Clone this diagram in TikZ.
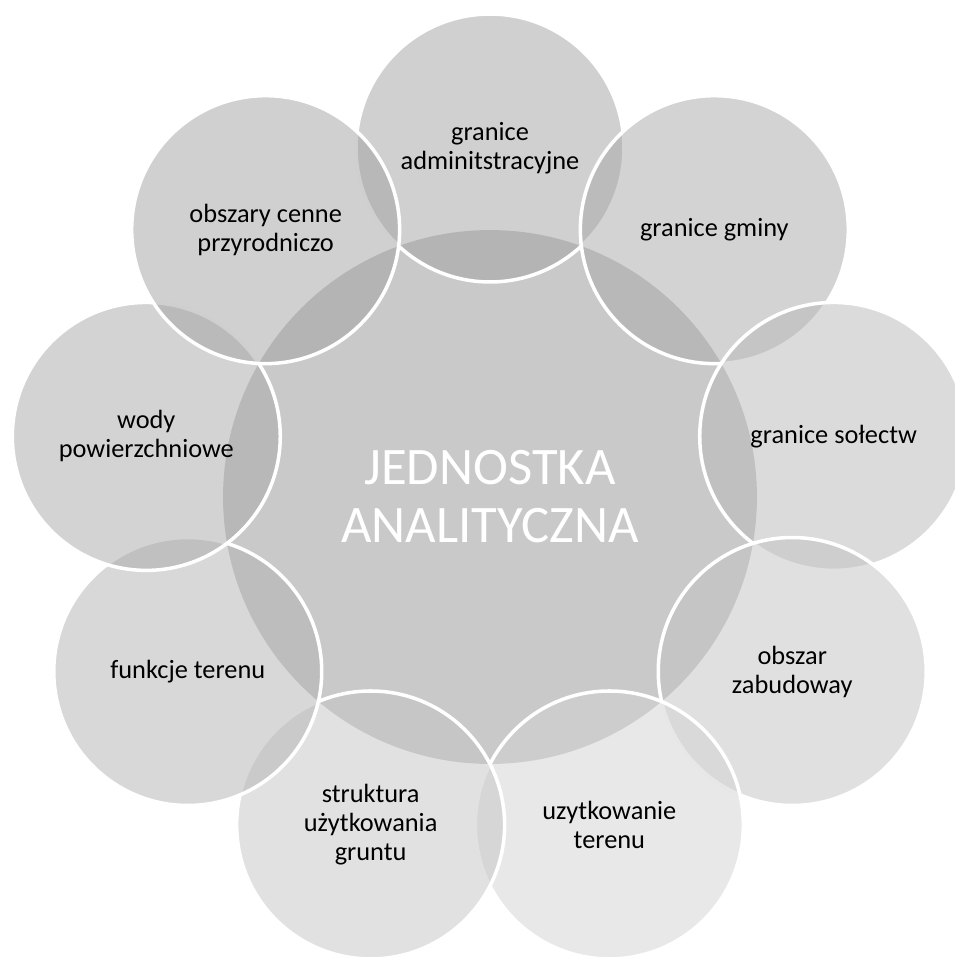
\documentclass[tikz,border=0pt]{standalone}
\usepackage{fontspec}
\setmainfont{Carlito}
\tikzset{
  hubnode/.style={circle, fill=white!79!black, text=white, minimum size=10.68cm,
    inner sep=0pt, align=center, font=\fontsize{30}{33}\selectfont},
  petal/.style={circle, draw=white, line width=2pt, fill opacity=0.5, text opacity=1,
    minimum size=5.36cm, inner sep=0pt, align=center, font=\fontsize{15}{16.5}\selectfont}
}
\begin{document}
\begin{tikzpicture}[x=0.02cm,y=0.02cm]
\useasboundingbox (0,-958) rectangle (955,0);
\clip (0,-958) rectangle (955,0);
\node[hubnode] (hub) at (490,-497) {JEDNOSTKA\\ANALITYCZNA};
\foreach \ang/\g/\txt [count=\i] in {
    90/63/{granice\\adminitstracyjne},
    50/66/{granice gminy},
    10/72/{granice sołectw},
    -30/76/{obszar\\zabudoway},
    -70/82/{uzytkowanie\\terenu},
    -110/77/{struktura\\użytkowania\\gruntu},
    -150/70/{funkcje terenu},
    170/66/{wody\\powierzchniowe},
    130/63/{obszary cenne\\przyrodniczo}}
  \node[petal, fill=white!\g!black] (p\i) at ([shift={(\ang:349)}]hub) {\txt};
\end{tikzpicture}
\end{document}
